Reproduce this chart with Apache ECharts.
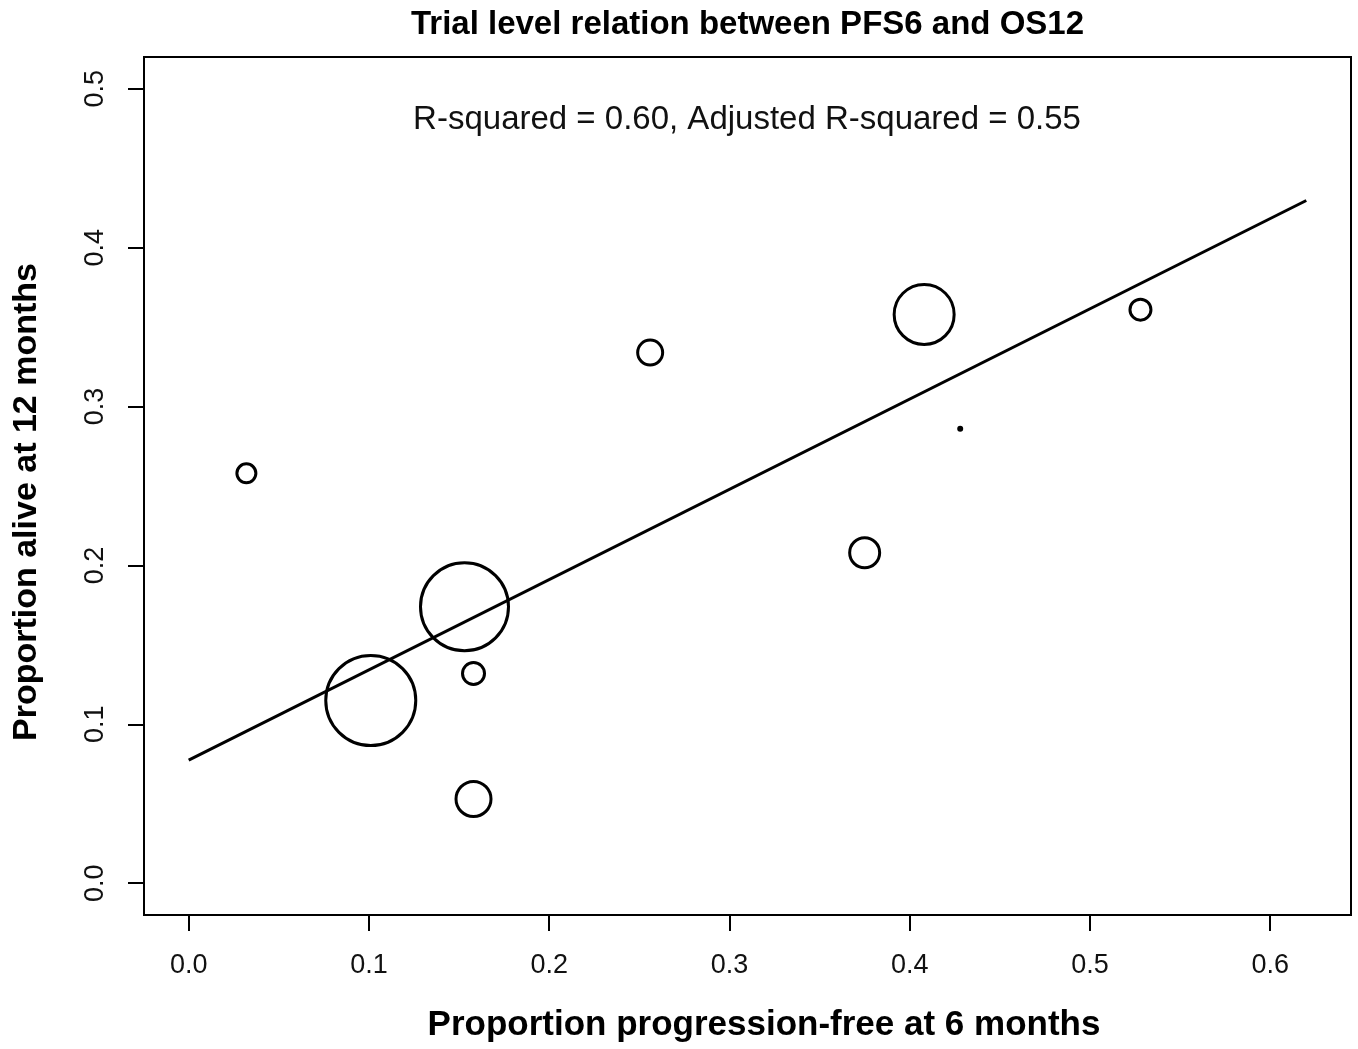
<!DOCTYPE html>
<html>
<head>
<meta charset="utf-8">
<script src="https://cdn.jsdelivr.net/npm/echarts@6/dist/echarts.min.js"></script>
<style>
    html, body { margin: 0; padding: 0; background: #fff; }
    #chart { width: 1358px; height: 1049px; }
</style>
</head>
<body>
<div id="chart"></div>
<script type="text/javascript">
    // trial-level data: PFS at 6 months vs OS at 12 months, circle size ~ trial weight
    var pfs6 = [0.032, 0.101, 0.153, 0.158, 0.158, 0.256, 0.375, 0.408, 0.428, 0.528];
    var os12 = [0.258, 0.115, 0.174, 0.132, 0.053, 0.334, 0.208, 0.358, 0.286, 0.361];
    var weights = [1.9, 9.0, 8.8, 2.2, 3.5, 2.5, 3.0, 6.0, 0.3, 2.1];

    // fitted regression line
    var fitX = [0, 0.62];
    var fitY = [0.0775, 0.4297];

    var xTicks = [0, 0.1, 0.2, 0.3, 0.4, 0.5, 0.6];
    var yTicks = [0, 0.1, 0.2, 0.3, 0.4, 0.5];

    var font = "'Liberation Sans', Arial, Helvetica, sans-serif";

    var points = [];
    for (var i = 0; i < pfs6.length; i++) {
        points.push([pfs6[i], os12[i], weights[i]]);
    }
    var fitLine = [];
    for (var j = 0; j < fitX.length; j++) {
        fitLine.push([fitX[j], fitY[j]]);
    }

    var myChart = echarts.init(document.getElementById('chart'));
    var option = {
        animation: false,
        backgroundColor: '#fff',
        grid: {
            left: 144, right: 7, top: 57, bottom: 134,
            show: true,
            borderColor: '#000',
            borderWidth: 2,
            containLabel: false,
            outerBoundsMode: 'none'
        },
        xAxis: {
            type: 'value',
            min: -0.0248,
            max: 0.6448,
            axisLine: { show: false, onZero: false },
            splitLine: { show: false },
            axisTick: {
                show: true,
                customValues: xTicks,
                length: 16,
                lineStyle: { color: '#000', width: 2 }
            },
            axisLabel: {
                customValues: xTicks,
                margin: 37,
                fontSize: 27,
                fontFamily: font,
                color: '#111',
                formatter: function (v) { return v.toFixed(1); }
            }
        },
        yAxis: {
            type: 'value',
            min: -0.02,
            max: 0.52,
            axisLine: { show: false, onZero: false },
            splitLine: { show: false },
            axisTick: {
                show: true,
                customValues: yTicks,
                length: 16,
                lineStyle: { color: '#000', width: 2 }
            },
            axisLabel: {
                customValues: yTicks,
                rotate: 90,
                margin: 35,
                fontSize: 27,
                fontFamily: font,
                color: '#111',
                formatter: function (v) { return v.toFixed(1); }
            }
        },
        series: [
            {
                type: 'line',
                data: fitLine,
                symbol: 'none',
                silent: true,
                lineStyle: { color: '#000', width: 3 }
            },
            {
                type: 'scatter',
                data: points,
                symbol: 'circle',
                symbolSize: function (val) { return val[2] * 10; },
                itemStyle: {
                    color: 'rgba(0,0,0,0)',
                    borderColor: '#000',
                    borderWidth: 3,
                    opacity: 1
                }
            }
        ],
        graphic: [
            {
                type: 'text',
                x: 747.5, y: 25,
                style: {
                    text: 'Trial level relation between PFS6 and OS12',
                    font: 'bold 33px ' + font,
                    fill: '#000',
                    textAlign: 'center',
                    textVerticalAlign: 'middle'
                }
            },
            {
                type: 'text',
                x: 747, y: 120,
                style: {
                    text: 'R-squared = 0.60, Adjusted R-squared = 0.55',
                    font: '33px ' + font,
                    fill: '#111',
                    textAlign: 'center',
                    textVerticalAlign: 'middle'
                }
            },
            {
                type: 'text',
                x: 764, y: 1025,
                style: {
                    text: 'Proportion progression-free at 6 months',
                    font: 'bold 35px ' + font,
                    fill: '#000',
                    textAlign: 'center',
                    textVerticalAlign: 'middle'
                }
            },
            {
                type: 'text',
                x: 27, y: 502,
                rotation: Math.PI / 2,
                style: {
                    text: 'Proportion alive at 12 months',
                    font: 'bold 34px ' + font,
                    fill: '#000',
                    textAlign: 'center',
                    textVerticalAlign: 'middle'
                }
            }
        ]
    };
    myChart.setOption(option);
</script>
</body>
</html>
